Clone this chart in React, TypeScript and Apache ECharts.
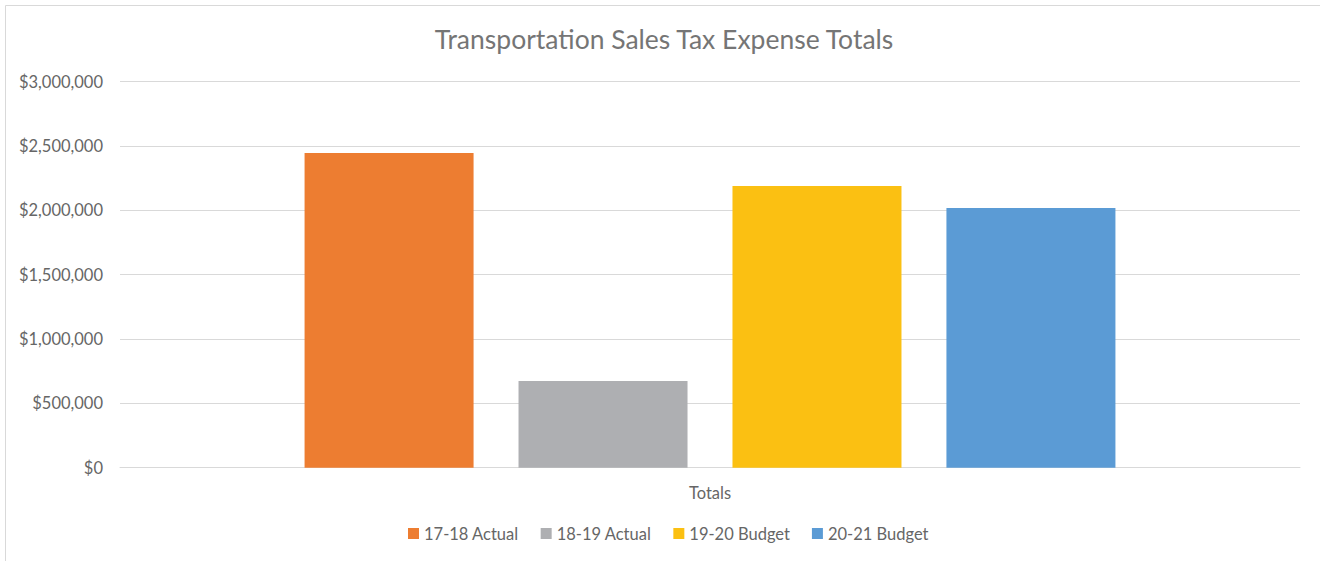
import React, { useEffect, useRef } from "react";
import * as echarts from "echarts";

const title = "Transportation Sales Tax Expense Totals";
const categories = ["Totals"];
const seriesNames = ["17-18 Actual", "18-19 Actual", "19-20 Budget", "20-21 Budget"];
const seriesValues = [2446000, 674000, 2189000, 2018000];
const seriesColors = ["#ED7D31", "#AEAFB2", "#FBC012", "#5B9BD5"];

const FONT = "Lato, 'Noto Sans', sans-serif";
const TEXT = "#666666";

export default function App() {
  const ref = useRef<HTMLDivElement>(null);
  useEffect(() => {
    if (!ref.current) return;
    const chart = echarts.init(ref.current, undefined, { renderer: "svg" });
    chart.setOption({
      animation: false,
      backgroundColor: "#ffffff",
      textStyle: { fontFamily: FONT },
      title: {
        text: title,
        left: 659,
        top: 20,
        textAlign: "center",
        textStyle: { fontFamily: FONT, fontSize: 26.5, fontWeight: "normal", color: "#757575" },
      },
      graphic: [
        {
          type: "rect",
          shape: { x: 5.5, y: 5.5, width: 1400, height: 600 },
          style: { fill: "none", stroke: "#D9D9D9", lineWidth: 1 },
          silent: true,
        },
      ],
      legend: {
        left: 403,
        top: 520,
        itemWidth: 11,
        itemHeight: 11,
        itemGap: 22,
        icon: "rect",
        textStyle: { fontFamily: FONT, fontSize: 16.5, color: TEXT },
        data: seriesNames,
      },
      grid: { left: 120, right: 20, top: 81.7, bottom: 93.3 },
      xAxis: {
        type: "category",
        data: categories,
        axisLine: { show: true, lineStyle: { color: "#D9D9D9", width: 1 } },
        axisTick: { show: false },
        axisLabel: { fontFamily: FONT, fontSize: 16.5, color: TEXT, margin: 17 },
      },
      yAxis: {
        type: "value",
        min: 0,
        max: 3000000,
        interval: 500000,
        axisLine: { show: false },
        axisTick: { show: false },
        splitLine: { lineStyle: { color: "#D9D9D9", width: 1 } },
        axisLabel: {
          fontFamily: FONT,
          fontSize: 16.5,
          color: TEXT,
          margin: 17,
          formatter: (v: number) => "$" + v.toLocaleString("en-US"),
        },
      },
      series: seriesNames.map((name, i) => ({
        name,
        type: "bar",
        data: [seriesValues[i]],
        barWidth: 169,
        barGap: "26.6%",
        itemStyle: { color: seriesColors[i] },
      })),
    });
    return () => chart.dispose();
  }, []);
  return (
    <div
      ref={ref}
      style={{ position: "fixed", left: 0, top: 0, width: 1320, height: 561 }}
    />
  );
}
